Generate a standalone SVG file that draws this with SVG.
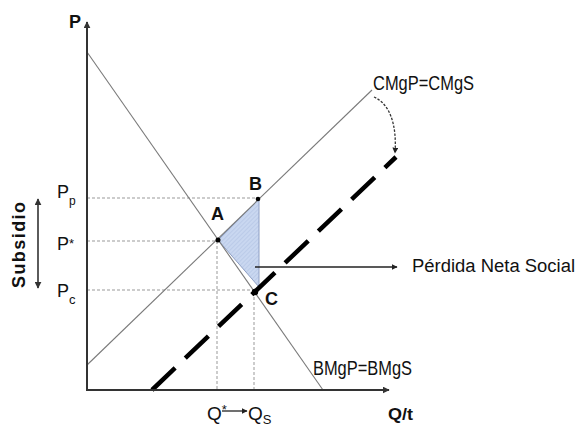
<svg xmlns="http://www.w3.org/2000/svg" width="577" height="428" viewBox="0 0 577 428">
<style>
.axis{stroke:#333;stroke-width:2;fill:none}
.curve{stroke:#7a7a7a;stroke-width:1.1;fill:none}
.guide{stroke:#999;stroke-width:1;stroke-dasharray:3 2;fill:none}
.lbl{font-family:"Liberation Sans",Arial,sans-serif;fill:#111}
.b{font-weight:bold}
.cond{font-family:"Liberation Sans",Arial,sans-serif;fill:#111;font-size:20px}
</style>
<defs>
<marker id="ah" viewBox="0 0 10 10" refX="9" refY="5" markerWidth="7" markerHeight="7" markerUnits="userSpaceOnUse" orient="auto-start-reverse">
<path d="M0,0 L10,5 L0,10 z" fill="#333"/>
</marker>
<marker id="ahs" viewBox="0 0 10 10" refX="9" refY="5" markerWidth="6" markerHeight="6" markerUnits="userSpaceOnUse" orient="auto">
<path d="M0,0 L10,5 L0,10 z" fill="#222"/>
</marker>
<pattern id="hatch" width="3" height="3" patternUnits="userSpaceOnUse" patternTransform="rotate(45)">
<rect width="3" height="3" fill="#c9d7f0"/>
<line x1="0" y1="0" x2="0" y2="3" stroke="#aebfe0" stroke-width="1"/>
</pattern>
</defs>
<rect width="577" height="428" fill="#fff"/>

<g id="guides">
<line class="guide" x1="87" y1="198" x2="258" y2="198"/>
<line class="guide" x1="87" y1="241" x2="218" y2="241"/>
<line class="guide" x1="87" y1="290" x2="255" y2="290"/>
<line class="guide" x1="217" y1="241" x2="217" y2="390"/>
<line class="guide" x1="254" y1="292" x2="254" y2="390"/>
</g>

<g id="deadweight-loss">
<polygon points="218,240 259,199 259,287" fill="url(#hatch)" stroke="#8e9fc4" stroke-width="1"/>
</g>

<g id="curves">
<line id="demand" class="curve" x1="87" y1="52" x2="323" y2="390"/>
<line id="supply" class="curve" x1="87" y1="365" x2="372" y2="90"/>
<line id="shifted-supply" x1="152" y1="390" x2="396" y2="157" stroke="#000" stroke-width="4.5" stroke-dasharray="32 14"/>
</g>

<g id="axes">
<line class="axis" x1="87" y1="390" x2="87" y2="22" marker-end="url(#ah)"/>
<line class="axis" x1="86" y1="390" x2="389" y2="390" marker-end="url(#ah)"/>
</g>

<g id="points">
<circle id="A" cx="218" cy="240" r="2.5" fill="#000"/>
<circle id="B" cx="258" cy="199" r="2.3" fill="#000"/>
<circle id="C" cx="255" cy="292" r="3.2" fill="#000"/>
</g>

<g id="connectors">
<line x1="38" y1="199" x2="38" y2="288" stroke="#333" stroke-width="1.6" marker-start="url(#ah)" marker-end="url(#ah)"/>
<line x1="255" y1="267" x2="397" y2="267" stroke="#222" stroke-width="1.6" marker-end="url(#ahs)"/>
<path d="M374,97 C390,104 397,125 395,153" fill="none" stroke="#333" stroke-width="1.3" stroke-dasharray="2.5 1.5" marker-end="url(#ahs)"/>
<line x1="222" y1="411" x2="247" y2="411" stroke="#222" stroke-width="1.3" marker-end="url(#ahs)"/>
</g>

<g id="labels">
<text class="lbl b" x="69" y="28" font-size="18">P</text>
<text class="lbl b" x="388" y="420" font-size="17" textLength="25" lengthAdjust="spacingAndGlyphs">Q/t</text>
<text class="lbl" x="57" y="198" font-size="18">P<tspan font-size="12" dy="7">p</tspan></text>
<text class="lbl" x="57" y="250" font-size="18">P<tspan font-size="13" dy="-2">*</tspan></text>
<text class="lbl" x="57" y="297" font-size="18">P<tspan font-size="13" dy="7">c</tspan></text>
<text class="lbl b" x="19" y="245" font-size="18" text-anchor="middle" transform="rotate(-90 19 245)" textLength="86" lengthAdjust="spacing" dy="6">Subsidio</text>
<text class="lbl b" x="211" y="220" font-size="18">A</text>
<text class="lbl b" x="249" y="190" font-size="18">B</text>
<text class="lbl b" x="265" y="305" font-size="18">C</text>
<text class="cond" x="373" y="90" textLength="101" lengthAdjust="spacingAndGlyphs">CMgP=CMgS</text>
<text class="cond" x="313" y="375" textLength="99" lengthAdjust="spacingAndGlyphs">BMgP=BMgS</text>
<text class="lbl" x="207" y="420" font-size="19">Q<tspan font-size="13" dy="-6">*</tspan></text>
<text class="lbl" x="248" y="420" font-size="19">Q<tspan font-size="13" dy="4">S</tspan></text>
<text class="lbl" x="412" y="272" font-size="18" fill="#333" textLength="163" lengthAdjust="spacingAndGlyphs">Pérdida Neta Social</text>
</g>
</svg>
